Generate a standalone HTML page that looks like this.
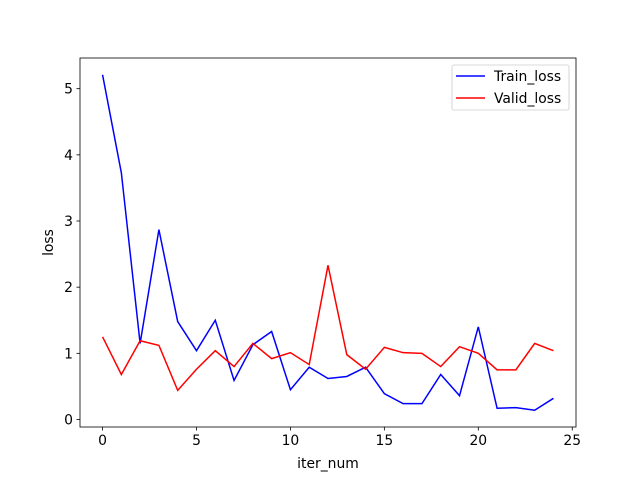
<!DOCTYPE html>
<html><head><meta charset="utf-8"><style>
body{margin:0;background:#fff}
svg text{font-family:"DejaVu Sans","Liberation Sans",sans-serif;font-size:13.9px;fill:#000}
</style></head><body>
<svg id="chart" width="640" height="480" xmlns="http://www.w3.org/2000/svg">
<rect width="640" height="480" fill="#fff"/>
<g id="plot"></g>
</svg>
<script>
const iterNum=[0,1,2,3,4,5,6,7,8,9,10,11,12,13,14,15,16,17,18,19,20,21,22,23,24];
const trainLoss=[5.21,3.73,1.15,2.87,1.48,1.04,1.50,0.59,1.13,1.33,0.45,0.79,0.62,0.65,0.79,0.39,0.24,0.24,0.68,0.36,1.40,0.17,0.18,0.14,0.32];
const validLoss=[1.25,0.68,1.19,1.12,0.44,0.76,1.04,0.80,1.15,0.92,1.01,0.83,2.33,0.98,0.76,1.09,1.01,1.00,0.80,1.10,1.00,0.75,0.75,1.15,1.04];
const xTicks=[0,5,10,15,20,25];
const yTicks=[0,1,2,3,4,5];

const NS="http://www.w3.org/2000/svg";
const g=document.getElementById('plot');
const L=80,R=576,T=58,B=427;
const xmin0=Math.min(...iterNum),xmax0=Math.max(...iterNum);
const xm=(xmax0-xmin0)*0.05;const xmin=xmin0-xm,xmax=xmax0+xm;
const all=trainLoss.concat(validLoss);
const ymin0=Math.min(...all),ymax0=Math.max(...all);
const ym=(ymax0-ymin0)*0.05;const ymin=ymin0-ym,ymax=ymax0+ym;
const X=v=>L+(v-xmin)/(xmax-xmin)*(R-L);
const Y=v=>B-(v-ymin)/(ymax-ymin)*(B-T);
function mk(t,a){const e=document.createElementNS(NS,t);for(const k in a)e.setAttribute(k,a[k]);g.appendChild(e);return e;}

function series(vals,color,name){
  const p=mk('polyline',{points:vals.map((v,i)=>X(iterNum[i])+','+Y(v)).join(' '),fill:'none',stroke:color,'stroke-width':1.5});
  
  
}
series(trainLoss,'#0000ff','train-loss-line');
series(validLoss,'#ff0000','valid-loss-line');

const fr=mk('rect',{x:L,y:T,width:R-L,height:B-T,fill:'none',stroke:'#000','stroke-width':0.8});



xTicks.forEach(t=>{const x=X(t);
  mk('line',{x1:x,x2:x,y1:B,y2:B+3.5,stroke:'#000','stroke-width':0.8});
  const tx=mk('text',{x:x,y:B+18,'text-anchor':'middle'});tx.textContent=t;
  
  
});
yTicks.forEach(t=>{const y=Y(t);
  mk('line',{x1:L-3.5,x2:L,y1:y,y2:y,stroke:'#000','stroke-width':0.8});
  const tx=mk('text',{x:L-7,y:y+5,'text-anchor':'end'});tx.textContent=t;
  
  
});
const xl=mk('text',{x:(L+R)/2,y:468,'text-anchor':'middle'});xl.textContent='iter_num';


const yl=mk('text',{x:0,y:0,'text-anchor':'middle',transform:'translate(53,'+((T+B)/2)+') rotate(-90)'});yl.textContent='loss';



const lg=mk('rect',{x:452,y:65,width:117,height:45,rx:2,fill:'#fff',stroke:'#ccc','stroke-width':0.8});


[['Train_loss','#0000ff',76],['Valid_loss','#ff0000',98]].forEach(([n,c,y])=>{
  const ln=mk('line',{x1:456,x2:485,y1:y,y2:y,stroke:c,'stroke-width':1.5});
  
  
  const t=mk('text',{x:494,y:y+5});t.textContent=n;
  
  
});
</script>
</body></html>
